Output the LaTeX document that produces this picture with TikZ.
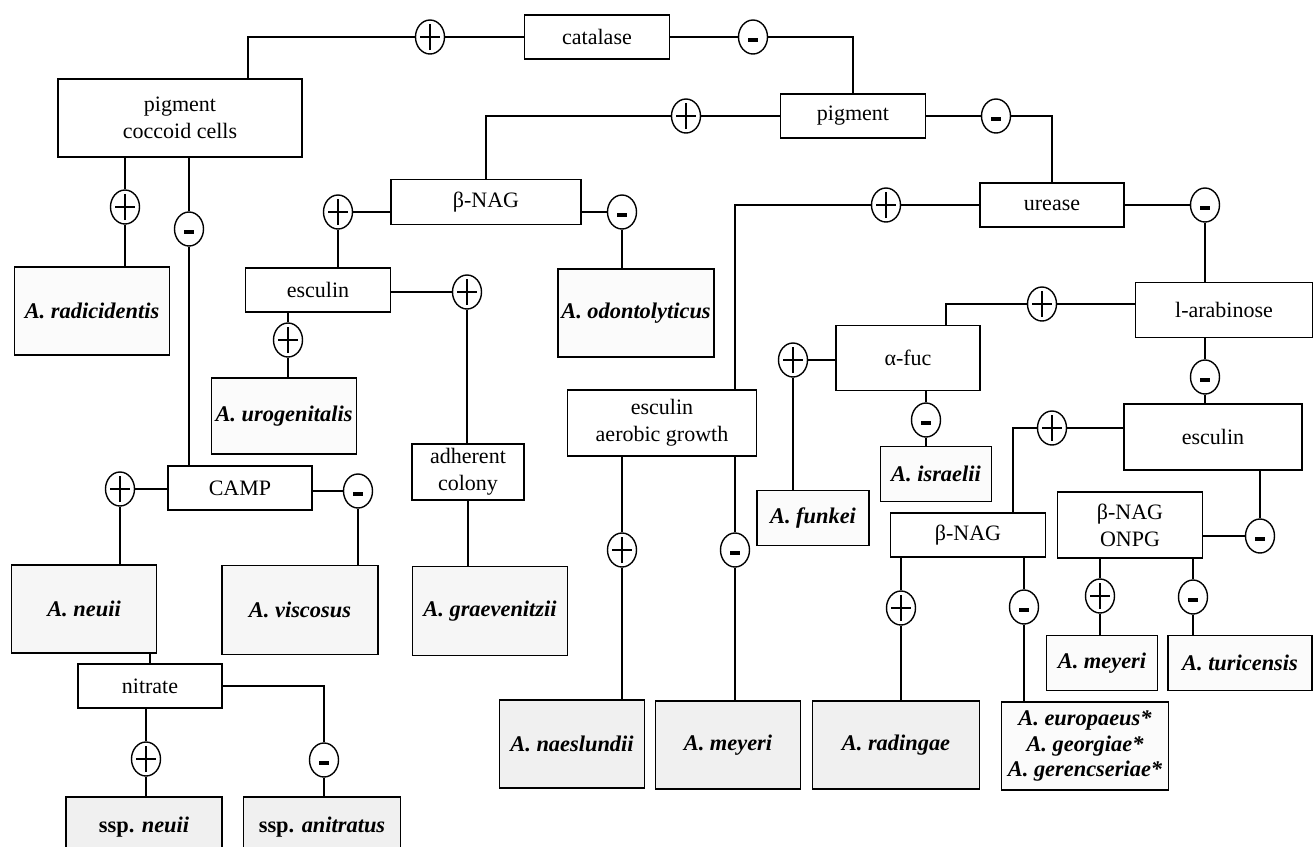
\documentclass[tikz,border=0pt]{standalone}
\usepackage{fontspec}
\setmainfont{Liberation Serif}
\usetikzlibrary{shapes.geometric}
\newlength\pxu
\setlength\pxu{0.5pt}
\tikzset{
  test/.style={draw,line width=0.9pt,inner sep=0pt,align=center,font=\fontsize{11}{13.5}\selectfont},
  taxon/.style={test,font=\fontsize{11.2}{12.6}\selectfont\bfseries\itshape},
  sz/.style 2 args={minimum width=#1\pxu,minimum height=#2\pxu},
  pale/.style={fill=gray!3},
  mid/.style={fill=gray!7},
  dark/.style={fill=gray!12},
  link/.style={line width=0.7pt},
  sign/.style={ellipse,draw,line width=0.7pt,minimum width=29\pxu,minimum height=34\pxu,inner sep=0pt,fill=white},
  plussign/.style={sign,path picture={\draw[black,line width=0.6pt]
      ([xshift=-5pt]path picture bounding box.center) -- ([xshift=5pt]path picture bounding box.center)
      ([yshift=-6.5pt]path picture bounding box.center) -- ([yshift=6.5pt]path picture bounding box.center);}},
  minussign/.style={sign,path picture={\fill[black]
      ([xshift=-2.6pt,yshift=-0.7pt]path picture bounding box.center) rectangle ([xshift=2.6pt,yshift=-2.4pt]path picture bounding box.center);}},
}
\begin{document}
\begin{tikzpicture}[x=0.5pt,y=-0.5pt]
  \useasboundingbox (0,0) rectangle (1314,847);
  % tests
  \node[test,sz={145}{44}] (catalase) at (597,37) {catalase};
  \node[test,sz={244}{78}] (pigcoc) at (180,118) {pigment\\coccoid cells};
  \node[test,sz={145}{44}] (pigment) at (853,116) {pigment};
  \node[test,sz={190}{45}] (bnag) at (486,202) {β-NAG};
  \node[test,sz={145}{44}] (esc1) at (318,290) {esculin};
  \node[test,sz={144}{44}] (camp) at (240,488) {CAMP};
  \node[test,sz={112}{56}] (adher) at (468,472) {adherent\\colony};
  \node[test,sz={189}{66}] (escaer) at (662,423) {esculin\\aerobic growth};
  \node[test,sz={144}{44}] (urease) at (1052,205) {urease};
  \node[test,sz={177}{55}] (larab) at (1224,310) {l-arabinose};
  \node[test,sz={144}{65}] (afuc) at (908,358) {α-fuc};
  \node[test,sz={178}{66}] (esc2) at (1213,437) {esculin};
  \node[test,sz={155}{44}] (bnag2) at (968,535) {β-NAG};
  \node[test,sz={145}{66}] (onpg) at (1130,525) {β-NAG\\ONPG};
  \node[test,sz={144}{44}] (nitrate) at (150,686) {nitrate};
  % species
  \node[taxon,pale,sz={155}{88}] (radic) at (92,311) {A. radicidentis};
  \node[taxon,pale,sz={145}{76}] (urog) at (284,416) {A. urogenitalis};
  \node[taxon,pale,sz={156}{88}] (odont) at (636,313) {A. odontolyticus};
  \node[taxon,mid,sz={145}{88}] (neuii) at (84,609) {A. neuii};
  \node[taxon,mid,sz={156}{89}] (visc) at (300,610) {A. viscosus};
  \node[taxon,mid,sz={155}{89}] (graev) at (490,611) {A. graevenitzii};
  \node[taxon,pale,sz={112}{55}] (funkei) at (813,518) {A. funkei};
  \node[taxon,pale,sz={111}{55}] (isr) at (936,474) {A. israelii};
  \node[taxon,dark,sz={145}{88}] (naes) at (572,744) {A. naeslundii};
  \node[taxon,dark,sz={145}{88}] (mey1) at (728,745) {A. meyeri};
  \node[taxon,dark,sz={167}{88}] (rad) at (896,745) {A. radingae};
  \node[taxon,pale,sz={167}{88}] (europ) at (1085,746) {A. europaeus*\\A. georgiae*\\A. gerencseriae*};
  \node[taxon,pale,sz={111}{55}] (mey2) at (1102,663) {A. meyeri};
  \node[taxon,pale,sz={144}{55}] (turic) at (1240,663) {A. turicensis};
  \node[taxon,dark,sz={156}{60},font=\fontsize{11.2}{12.6}\selectfont\bfseries] (sspn) at (144,827) {ssp. \textit{neuii}};
  \node[taxon,dark,sz={157}{60},font=\fontsize{11.2}{12.6}\selectfont\bfseries] (anit) at (322,827) {ssp. \textit{anitratus}};
  % signs
  \node[plussign] (p1) at (430,37) {};
  \node[minussign] (m1) at (753,37) {};
  \node[plussign] (p2) at (125,207) {};
  \node[minussign] (m2) at (189,229) {};
  \node[plussign] (p3) at (686,116) {};
  \node[minussign] (m3) at (996,116) {};
  \node[plussign] (p4) at (338,212) {};
  \node[minussign] (m4) at (622,212) {};
  \node[plussign] (p5) at (467,292) {};
  \node[plussign] (p6) at (288,340) {};
  \node[plussign] (p7) at (120,489) {};
  \node[minussign] (m7) at (358,491) {};
  \node[plussign] (p9) at (146,759) {};
  \node[minussign] (m9) at (324,760) {};
  \node[plussign] (p10) at (886,205) {};
  \node[minussign] (m10) at (1205,205) {};
  \node[plussign] (p11) at (1042,304) {};
  \node[minussign] (m11) at (1205,377) {};
  \node[plussign] (p12) at (793,360) {};
  \node[minussign] (m12) at (926,420) {};
  \node[plussign] (p13) at (1052,428) {};
  \node[minussign] (m13) at (1260,536) {};
  \node[plussign] (p14) at (622,550) {};
  \node[minussign] (m14) at (735,550) {};
  \node[plussign] (p15) at (901,608) {};
  \node[minussign] (m15) at (1024,607) {};
  \node[plussign] (p16) at (1100,596) {};
  \node[minussign] (m16) at (1193,597) {};
  % connectors
  \draw[link] (catalase) -- (p1) -| ([xshift=-55\pxu]pigcoc.north east);
  \draw[link] (catalase) -- (m1) -| (pigment.north);
  \draw[link] (p2 |- pigcoc.south) -- (p2) -- (p2 |- radic.north);
  \draw[link] (m2 |- pigcoc.south) -- (m2) -- (m2 |- camp.north);
  \draw[link] (pigment) -- (p3) -| (bnag.north);
  \draw[link] (pigment) -- (m3) -| (urease.north);
  \draw[link] (p4 -| bnag.west) -- (p4) -- (p4 |- esc1.north);
  \draw[link] (m4 -| bnag.east) -- (m4) -- (m4 |- odont.north);
  \draw[link] (p5 -| esc1.east) -- (p5) -- (p5 |- adher.north);
  \draw[link] (p6 |- esc1.south) -- (p6) -- (p6 |- urog.north);
  \draw[link] (adher.south) -- (adher.south |- graev.north);
  \draw[link] (p7 -| camp.west) -- (p7) -- (p7 |- neuii.north);
  \draw[link] (m7 -| camp.east) -- (m7) -- (m7 |- visc.north);
  \draw[link] (nitrate.north |- neuii.south) -- (nitrate.north);
  \draw[link] (p9 |- nitrate.south) -- (p9) -- (p9 |- sspn.north);
  \draw[link] (nitrate) -| (m9) -- (m9 |- anit.north);
  \draw[link] (urease) -- (p10) -| ([xshift=73\pxu]escaer.north);
  \draw[link] (urease) -- (m10) -- (m10 |- larab.north);
  \draw[link] (p11 -| larab.west) -- (p11) -| ([xshift=38\pxu]afuc.north);
  \draw[link] (m11 |- larab.south) -- (m11) -- (m11 |- esc2.north);
  \draw[link] (p12 -| afuc.west) -- (p12) -- (p12 |- funkei.north);
  \draw[link] (m12 |- afuc.south) -- (m12) -- (m12 |- isr.north);
  \draw[link] (p13 -| esc2.west) -- (p13) -| ([xshift=45\pxu]bnag2.north);
  \draw[link] (m13 -| onpg.east) -- (m13) -- (m13 |- esc2.south);
  \draw[link] (p14 |- escaer.south) -- (p14) -- (p14 |- naes.north);
  \draw[link] (m14 |- escaer.south) -- (m14) -- (m14 |- mey1.north);
  \draw[link] (p15 |- bnag2.south) -- (p15) -- (p15 |- rad.north);
  \draw[link] (m15 |- bnag2.south) -- (m15) -- (m15 |- europ.north);
  \draw[link] (p16 |- onpg.south) -- (p16) -- (p16 |- mey2.north);
  \draw[link] (m16 |- onpg.south) -- (m16) -- (m16 |- turic.north);
\end{tikzpicture}
\end{document}
